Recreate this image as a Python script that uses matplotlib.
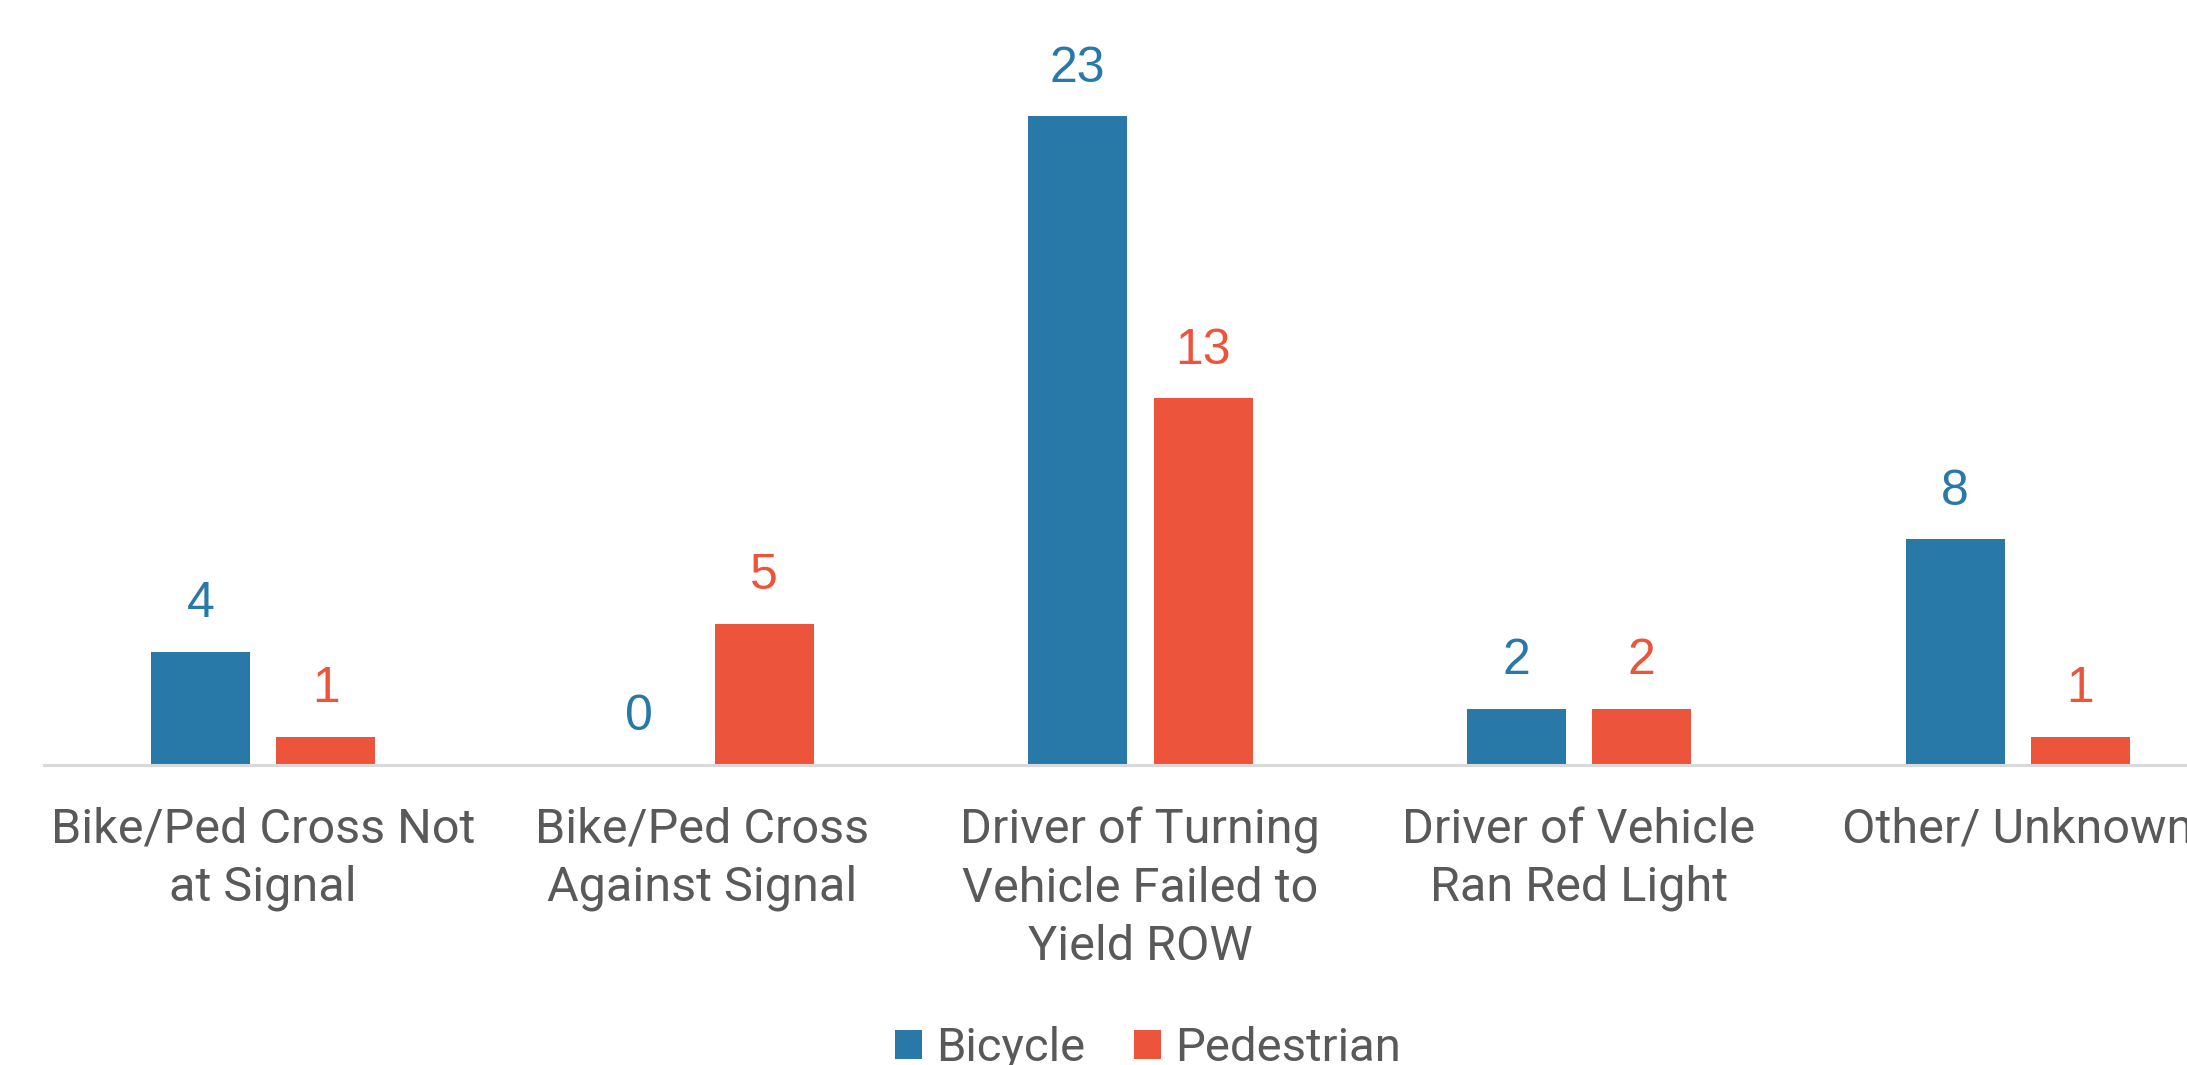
#!/usr/bin/env python3

import numpy as np
import matplotlib
matplotlib.use("Agg")
import matplotlib.pyplot as plt

categories = ["Bike/Ped Cross Not\nat Signal",
              "Bike/Ped Cross\nAgainst Signal",
              "Driver of Turning\nVehicle Failed to\nYield ROW",
              "Driver of Vehicle\nRan Red Light",
              "Other/ Unknown"]
bicycle = [4, 0, 23, 2, 8]
pedestrian = [1, 5, 13, 2, 1]
series_names = ["Bicycle", "Pedestrian"]

blue = "#2878A8"
red = "#EC543C"
gray = "#595959"

plt.rcParams["font.family"] = ["Roboto", "DejaVu Sans"]

fig = plt.figure(figsize=(21.87, 10.65), dpi=100)
W, H = 2187, 1065
# axes runs past the right edge of the figure, like the original
left, right = 43.7, 2237
base, top = 765, 765 - 25 * 28.2
ax = fig.add_axes([left / W, (H - base) / H, (right - left) / W, (base - top) / H])

x = np.arange(len(categories))
w = 0.2257
off = (w + 0.06) / 2
b1 = ax.bar(x - off, bicycle, w, color=blue, label=series_names[0])
b2 = ax.bar(x + off, pedestrian, w, color=red, label=series_names[1])

for bars, vals, col in [(b1, bicycle, blue), (b2, pedestrian, red)]:
    for r, v in zip(bars, vals):
        ax.annotate(str(v), (r.get_x() + r.get_width() / 2, v),
                    xytext=(0, 25), textcoords="offset points",
                    ha="center", va="baseline", fontsize=36, color=col,
                    family=["Liberation Sans", "DejaVu Sans"])

ax.set_xlim(-0.5, len(categories) - 0.5)
ax.set_ylim(0, 25)
ax.set_xticks(x)
ax.set_xticklabels(categories, fontsize=35, color=gray, linespacing=1.34)
ax.tick_params(axis="x", length=0, pad=30)
ax.set_yticks([])
for s in ["top", "right", "left"]:
    ax.spines[s].set_visible(False)
ax.spines["bottom"].set_color("#D9D9D9")
ax.spines["bottom"].set_linewidth(2.2)

fig.legend(handles=[b1, b2], labels=series_names, loc="center",
           bbox_to_anchor=(1148 / W, 0.0155), ncol=2, frameon=False,
           fontsize=34, labelcolor=gray, handlelength=0.57, handleheight=0.57,
           handletextpad=0.3, columnspacing=1.04, borderpad=0, borderaxespad=0)

fig.savefig("out.png", dpi=100)
